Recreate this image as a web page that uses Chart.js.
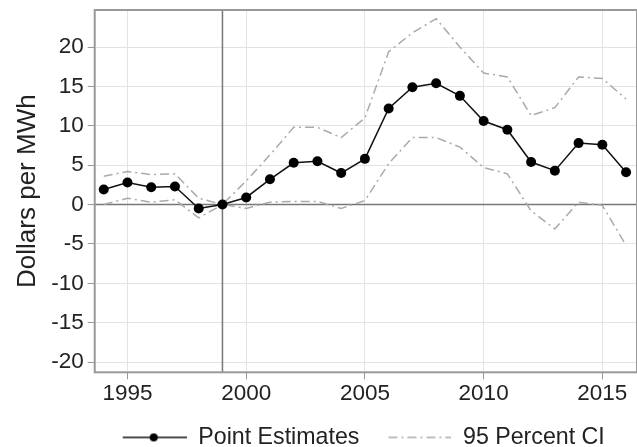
<!DOCTYPE html>
<html>
<head>
<meta charset="utf-8">
<script src="https://cdn.jsdelivr.net/npm/chart.js@4"></script>
<style>
  html, body { margin: 0; padding: 0; background: #fff; overflow: hidden; }
  #wrap { width: 637px; height: 447px; }
</style>
</head>
<body>
<div id="wrap"><canvas id="chEvent"></canvas></div>
<script>
// data
var years = [1994, 1995, 1996, 1997, 1998, 1999, 2000, 2001, 2002, 2003, 2004, 2005,
             2006, 2007, 2008, 2009, 2010, 2011, 2012, 2013, 2014, 2015, 2016];
var pointEstimates = [1.9, 2.8, 2.2, 2.3, -0.5, 0, 0.9, 3.2, 5.3, 5.5, 4.0, 5.8,
                      12.2, 14.9, 15.4, 13.8, 10.6, 9.5, 5.4, 4.3, 7.8, 7.6, 4.1];
var ciUpper = [3.6, 4.2, 3.8, 3.9, 0.8, 0, 3.0, 6.3, 9.8, 9.8, 8.5, 11.0,
               19.4, 21.8, 23.6, 20.0, 16.7, 16.2, 11.3, 12.3, 16.2, 16.0, 13.4];
var ciLower = [0, 0.8, 0.3, 0.6, -1.7, 0, -0.5, 0.3, 0.4, 0.4, -0.5, 0.5,
               5.2, 8.5, 8.5, 7.3, 4.7, 3.9, -0.8, -3.1, 0.3, -0.1, -5.2];
var xTicks = [1995, 2000, 2005, 2010, 2015];
var yTicks = [-20, -15, -10, -5, 0, 5, 10, 15, 20];
var eventYear = 1999;

var ciColor = '#aaaaaa';
var ciDash = [9, 4, 2, 4];

function pts(vals) {
	return years.map(function (y, i) { return { x: y, y: vals[i] }; });
}

// legend swatches (left margin inside the image widens the gap between items)
function swatch(kind) {
	var c = document.createElement('canvas');
	c.width = 74; c.height = 14;
	var g = c.getContext('2d');
	g.lineWidth = 1.5;
	if (kind === 'est') {
		g.strokeStyle = '#111';
		g.beginPath(); g.moveTo(10, 7); g.lineTo(74, 7); g.stroke();
		g.fillStyle = '#000';
		g.beginPath(); g.arc(41, 7, 4, 0, Math.PI * 2); g.fill();
	} else {
		g.strokeStyle = ciColor;
		g.setLineDash(ciDash);
		g.beginPath(); g.moveTo(11, 7); g.lineTo(74, 7); g.stroke();
	}
	return c;
}
var swEst = swatch('est');
var swCi = swatch('ci');

// frame, zero line and event-year line
var refLines = {
	id: 'refLines',
	beforeDatasetsDraw: function (chart) {
		var ctx = chart.ctx, a = chart.chartArea;
		var xs = chart.scales.x, ys = chart.scales.y;
		ctx.save();
		ctx.strokeStyle = '#777';
		ctx.lineWidth = 1.5;
		var y0 = ys.getPixelForValue(0);
		ctx.beginPath(); ctx.moveTo(a.left, y0); ctx.lineTo(a.right, y0); ctx.stroke();
		var xe = xs.getPixelForValue(eventYear);
		ctx.beginPath(); ctx.moveTo(xe, a.top); ctx.lineTo(xe, a.bottom); ctx.stroke();
		ctx.strokeStyle = '#999';
		ctx.lineWidth = 2;
		ctx.strokeRect(a.left, a.top, a.right - a.left, a.bottom - a.top);
		ctx.restore();
	}
};

// drop the label overhang padding chart.js adds; the plot runs past the right edge like the original
function noOverhang(s) {
	s.paddingTop = 0; s.paddingBottom = 0; s.paddingLeft = 0; s.paddingRight = -4;
}

Chart.defaults.font.family = "'Liberation Sans', Arial, sans-serif";
Chart.defaults.color = '#222';

new Chart(document.getElementById('chEvent'), {
	type: 'line',
	data: {
		datasets: [
			{
				label: 'Point Estimates',
				data: pts(pointEstimates),
				borderColor: '#111',
				backgroundColor: '#000',
				borderWidth: 1.5,
				pointRadius: 5,
				pointBorderWidth: 0,
				pointStyle: 'circle',
				order: 1
			},
			{
				label: '95 Percent CI',
				data: pts(ciUpper),
				borderColor: ciColor,
				borderWidth: 1.5,
				borderDash: ciDash,
				pointRadius: 0,
				order: 2
			},
			{
				label: '95 Percent CI lower',
				data: pts(ciLower),
				borderColor: ciColor,
				borderWidth: 1.5,
				borderDash: ciDash,
				pointRadius: 0,
				order: 2
			}
		]
	},
	options: {
		responsive: true,
		maintainAspectRatio: false,
		animation: false,
		layout: { autoPadding: false, padding: { left: 8, right: -4, top: 10, bottom: -12 } },
		plugins: {
			tooltip: { enabled: false },
			legend: {
				position: 'bottom',
				fullSize: false,
				align: 'start',
				labels: {
					usePointStyle: true,
					pointStyleWidth: 74,
					padding: 18,
					font: { size: 23.2 },
					generateLabels: function (chart) {
						return [
							{ text: 'Point Estimates', pointStyle: swEst, datasetIndex: 0, lineWidth: 0, fontColor: '#222' },
							{ text: '95 Percent CI', pointStyle: swCi, datasetIndex: 1, lineWidth: 0, fontColor: '#222' }
						];
					}
				}
			}
		},
		scales: {
			x: {
				type: 'linear',
				min: 1993.62,
				max: 2016.46,
				afterBuildTicks: function (s) { s.ticks = xTicks.map(function (v) { return { value: v }; }); },
				afterFit: noOverhang,
				ticks: { font: { size: 22.5, lineHeight: 1 }, padding: 3, callback: function (v) { return String(v); } },
				grid: { color: '#e3e3e3', lineWidth: 1, tickLength: 7, tickColor: '#999' },
				border: { display: false }
			},
			y: {
				min: -21.3,
				max: 24.7,
				afterBuildTicks: function (s) { s.ticks = yTicks.map(function (v) { return { value: v }; }); },
				afterFit: noOverhang,
				ticks: { font: { size: 22.5 }, padding: 4 },
				grid: { color: '#e3e3e3', lineWidth: 1, tickLength: 7, tickColor: '#999' },
				border: { display: false },
				title: { display: true, text: 'Dollars per MWh', font: { size: 26 }, padding: 4 }
			}
		}
	},
	plugins: [refLines]
});
</script>
</body>
</html>
